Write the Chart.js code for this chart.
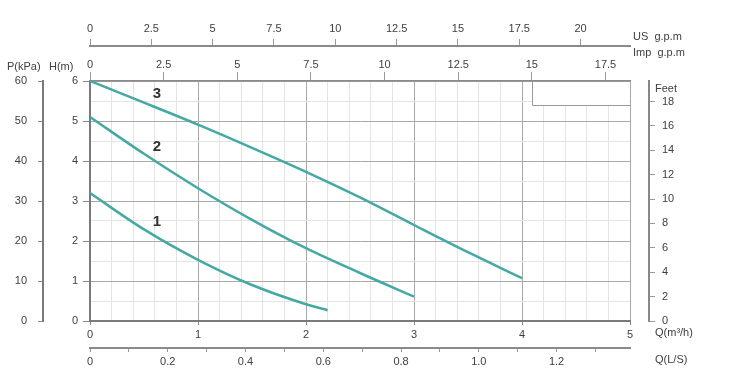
<!DOCTYPE html>
<html>
<head>
<meta charset="utf-8">
<script src="https://cdn.jsdelivr.net/npm/chart.js@4.4.1/dist/chart.umd.min.js"></script>
<style>
  html, body { margin: 0; padding: 0; background: #fff; }
  #wrap { position: relative; width: 736px; height: 385px; }
</style>
</head>
<body>
<div id="wrap"><canvas id="pumpChart"></canvas></div>
<script>
// ── pump curves, Q in m3/h, H in m ──
const curve1Q = [0, 0.5, 1, 1.5, 2, 2.2];
const curve1H = [3.2, 2.29, 1.53, 0.9, 0.42, 0.27];
const curve2Q = [0, 0.5, 1, 1.5, 2, 2.5, 3];
const curve2H = [5.1, 4.18, 3.32, 2.53, 1.82, 1.2, 0.61];
const curve3Q = [0, 0.5, 1, 1.5, 2, 2.5, 3, 3.5, 4];
const curve3H = [6.0, 5.46, 4.91, 4.33, 3.73, 3.09, 2.4, 1.72, 1.07];

const curveNames  = ['1', '2', '3'];
const curveLabelQ = [0.62, 0.62, 0.62];
const curveLabelH = [2.48, 4.35, 5.68];

// ── tick labels of the extra axes ──
const pTicks   = [0, 10, 20, 30, 40, 50, 60];
const ftTicks  = [0, 2, 4, 6, 8, 10, 12, 14, 16, 18];
const usTicks  = [0, 2.5, 5, 7.5, 10, 12.5, 15, 17.5, 20];
const impTicks = [0, 2.5, 5, 7.5, 10, 12.5, 15, 17.5];
const lsTicks  = [0, 0.1, 0.2, 0.3, 0.4, 0.5, 0.6, 0.7, 0.8, 0.9, 1.0, 1.1, 1.2, 1.3];

// unit conversions from the main axes
const Q_MAX = 5, H_MAX = 6;
const US_PER_M3H = 4.4029, IMP_PER_M3H = 3.6662, LS_PER_M3H = 1 / 3.6;
const FT_PER_M = 3.2808, KPA_PER_M = 10;

// empty box in the top right corner (in Q / H units)
const noteBoxQ = [15 / IMP_PER_M3H, 5];
const noteBoxH = [5.4, 6];

const TEXT = '#404040';
const TEAL = '#45a9a3';
const FONT = { family: "'Liberation Sans', Arial, sans-serif", size: 11 };

const pts = (qs, hs) => qs.map((q, i) => ({ x: q, y: hs[i] }));
const isInt = v => Math.abs(v - Math.round(v)) < 1e-6;
const fixTicks = arr => scale => { scale.ticks = arr.map(v => ({ value: v })); };
const fixW = w => scale => { scale.width = w; };
const fixH = h => scale => { scale.height = h; };

// ─────────────────────────────────────────
// extra drawing: corner box, curve numbers, axis titles
// ─────────────────────────────────────────
const decorPlugin = {
  id: 'decor',
  beforeDatasetsDraw(chart) {
    const { ctx, scales: { x, y } } = chart;
    const l = Math.round(x.getPixelForValue(noteBoxQ[0]));
    const r = Math.round(x.getPixelForValue(noteBoxQ[1]));
    const t = Math.round(y.getPixelForValue(noteBoxH[1]));
    const b = Math.round(y.getPixelForValue(noteBoxH[0]));
    ctx.save();
    ctx.fillStyle = '#fff';
    ctx.fillRect(l, t + 1, r - l - 1, b - t - 1);
    ctx.strokeStyle = '#9a9a9a';
    ctx.lineWidth = 1;
    ctx.beginPath();
    ctx.moveTo(l + 0.5, t);
    ctx.lineTo(l + 0.5, b + 0.5);
    ctx.lineTo(r, b + 0.5);
    ctx.stroke();
    ctx.restore();
  },
  afterDatasetsDraw(chart) {
    const { ctx, scales: { x, y } } = chart;
    ctx.save();
    ctx.fillStyle = '#333';
    ctx.font = "bold 15px 'Liberation Sans', Arial, sans-serif";
    ctx.textAlign = 'center';
    ctx.textBaseline = 'middle';
    curveNames.forEach((n, i) => {
      ctx.fillText(n, x.getPixelForValue(curveLabelQ[i]), y.getPixelForValue(curveLabelH[i]));
    });
    ctx.restore();
  },
  afterDraw(chart) {
    const { ctx, chartArea: ca } = chart;
    ctx.save();
    ctx.fillStyle = TEXT;
    ctx.font = "11px 'Liberation Sans', Arial, sans-serif";
    ctx.textBaseline = 'middle';
    ctx.textAlign = 'left';
    ctx.fillText('P(kPa)', 7, ca.top - 14);
    ctx.fillText('H(m)', 49, ca.top - 14);
    ctx.fillText('US  g.p.m', ca.right + 3, 37);
    ctx.fillText('Imp  g.p.m', ca.right + 3, 53);
    ctx.fillText('Feet', ca.right + 25, ca.top + 8);
    ctx.fillText('Q(m³/h)', ca.right + 25, ca.bottom + 12);
    ctx.fillText('Q(L/S)', ca.right + 25, ca.bottom + 39);
    ctx.restore();
  }
};

// ─────────────────────────────────────────
// chart
// ─────────────────────────────────────────
const curveStyle = {
  showLine: true,
  borderColor: TEAL,
  borderWidth: 2.5,
  pointRadius: 0,
  cubicInterpolationMode: 'monotone',
  xAxisID: 'x',
  yAxisID: 'y',
};

new Chart(document.getElementById('pumpChart'), {
  type: 'scatter',
  data: {
    datasets: [
      { label: '1', data: pts(curve1Q, curve1H), ...curveStyle },
      { label: '2', data: pts(curve2Q, curve2H), ...curveStyle },
      { label: '3', data: pts(curve3Q, curve3H), ...curveStyle },
    ],
  },
  options: {
    responsive: true,
    maintainAspectRatio: false,
    animation: false,
    layout: { padding: 0 },
    plugins: { legend: { display: false }, tooltip: { enabled: false } },
    scales: {
      x: {
        type: 'linear', position: 'bottom', weight: 0,
        min: 0, max: Q_MAX,
        afterFit: fixH(27),
        border: { color: '#7a7a7a', width: 2 },
        grid: {
          color: c => isInt(c.tick.value) ? '#a9a9a9' : '#e4e4e4',
          tickColor: c => isInt(c.tick.value) ? '#888' : 'rgba(0,0,0,0)',
          tickLength: 4,
        },
        ticks: {
          stepSize: 0.2, autoSkip: false, maxRotation: 0, padding: 3,
          color: TEXT, font: FONT,
          callback: v => isInt(v) ? String(Math.round(v)) : '',
        },
      },
      ls: {
        type: 'linear', position: 'bottom', weight: 1,
        min: 0, max: Q_MAX * LS_PER_M3H,
        afterFit: fixH(37),
        afterBuildTicks: fixTicks(lsTicks),
        border: { color: '#8a8a8a', width: 2 },
        grid: { drawOnChartArea: false, tickLength: 4, color: '#999' },
        ticks: {
          autoSkip: false, maxRotation: 0, padding: 3, color: TEXT, font: FONT,
          callback: v => {
            const k = Math.round(v * 10);
            if (k % 2) return '';
            return k === 0 ? '0' : v.toFixed(1);
          },
        },
      },
      y: {
        type: 'linear', position: 'left', weight: 0,
        min: 0, max: H_MAX,
        afterFit: fixW(47),
        border: { color: '#7a7a7a', width: 2 },
        grid: {
          color: c => isInt(c.tick.value) ? '#a9a9a9' : '#e4e4e4',
          tickColor: c => isInt(c.tick.value) ? '#888' : 'rgba(0,0,0,0)',
          tickLength: 7,
        },
        ticks: {
          stepSize: 0.5, autoSkip: false, padding: 5, color: TEXT, font: FONT,
          callback: v => isInt(v) ? String(Math.round(v)) : '',
        },
      },
      p: {
        type: 'linear', position: 'left', weight: 1,
        min: 0, max: H_MAX * KPA_PER_M,
        afterFit: fixW(43),
        afterBuildTicks: fixTicks(pTicks),
        border: { color: '#7a7a7a', width: 2 },
        grid: { drawOnChartArea: false, tickLength: 5, color: '#888' },
        ticks: { padding: 11, color: TEXT, font: FONT },
      },
      gap: {
        type: 'linear', position: 'right', weight: 0,
        afterFit: fixW(19),
        border: { display: false },
        grid: { display: false },
        ticks: { display: false },
      },
      ft: {
        type: 'linear', position: 'right', weight: 1,
        min: 0, max: H_MAX * FT_PER_M,
        afterFit: fixW(87),
        afterBuildTicks: fixTicks(ftTicks),
        border: { color: '#888', width: 2 },
        grid: { drawOnChartArea: false, tickLength: 6, color: '#999' },
        ticks: { padding: 7, color: TEXT, font: FONT },
      },
      imp: {
        type: 'linear', position: 'top', weight: 0,
        min: 0, max: Q_MAX * IMP_PER_M3H,
        afterFit: fixH(35),
        afterBuildTicks: fixTicks(impTicks),
        border: { color: '#8a8a8a', width: 1.5 },
        grid: { drawOnChartArea: false, tickLength: 9, color: '#999' },
        ticks: { autoSkip: false, maxRotation: 0, padding: 0, color: TEXT, font: FONT },
      },
      us: {
        type: 'linear', position: 'top', weight: 1,
        min: 0, max: Q_MAX * US_PER_M3H,
        afterFit: fixH(46),
        afterBuildTicks: fixTicks(usTicks),
        border: { color: '#8a8a8a', width: 2 },
        grid: { drawOnChartArea: false, tickLength: 7, color: '#999' },
        ticks: { autoSkip: false, maxRotation: 0, padding: 3, color: TEXT, font: FONT },
      },
    },
  },
  plugins: [decorPlugin],
});
</script>
</body>
</html>
